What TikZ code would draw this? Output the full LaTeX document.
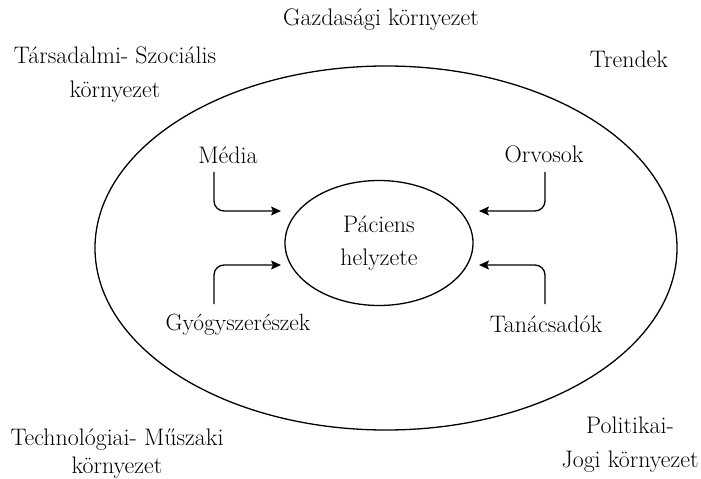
\documentclass[tikz,border=0pt]{standalone}
\usetikzlibrary{arrows.meta,shapes.geometric}
\begin{document}
\begin{tikzpicture}[x=1bp,y=-1bp,
  every node/.style={font=\fontsize{24}{34}\selectfont, inner sep=0pt},
  lbl/.style={align=center},
  ell/.style={draw, ellipse, line width=1.3bp},
  arr/.style={line width=1.3bp, rounded corners=10bp, -{Stealth[length=10bp,width=9bp,inset=2bp]}}]
\useasboundingbox (0,0) rectangle (701,479);
\node[ell, minimum width=582bp, minimum height=364bp] (outer) at (386,248) {};
\node[ell, minimum width=188bp, minimum height=125bp, align=center,
  font=\fontsize{24}{33}\selectfont] (inner) at (379,243) {Páciens\\helyzete};
\node[lbl] (gazd) at (381,20) {Gazdasági környezet};
\node[lbl] (tars) at (115,75) {Társadalmi- Szociális\\környezet};
\node[lbl] (trend) at (629,59) {Trendek};
\node[lbl, font=\fontsize{24}{28}\selectfont] (tech) at (117,454) {Technológiai- Műszaki\\környezet};
\node[lbl] (pol) at (630,445) {Politikai-\\Jogi környezet};
\node (media) at (228,155) {Média};
\node (orv) at (544,154) {Orvosok};
\node[font=\fontsize{23.5}{30}\selectfont] (gyogy) at (238,325) {Gyógyszerészek};
\node (tan) at (546,324) {Tanácsadók};
\coordinate (m0) at (214,172);
\coordinate (m1) at (281,211);
\coordinate (g0) at (214,304);
\coordinate (g1) at (281,265);
\coordinate (o0) at (545,172);
\coordinate (o1) at (479,211);
\coordinate (t0) at (545,304);
\coordinate (t1) at (479,265);
\draw[arr] (m0) |- (m1);
\draw[arr] (g0) |- (g1);
\draw[arr] (o0) |- (o1);
\draw[arr] (t0) |- (t1);
\end{tikzpicture}
\end{document}
